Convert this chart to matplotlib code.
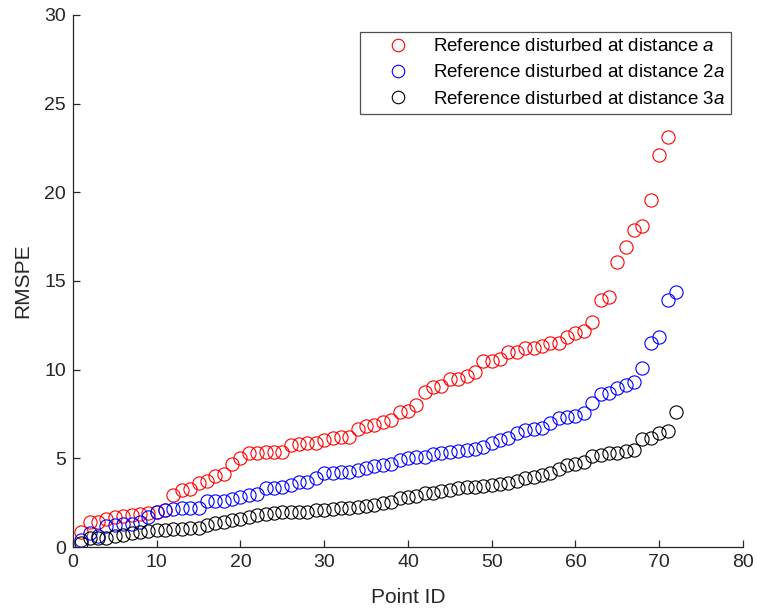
import matplotlib
matplotlib.use('Agg')
import matplotlib.pyplot as plt
import numpy as np

plt.rcParams['font.family'] = ['Liberation Sans', 'DejaVu Sans']
plt.rcParams['mathtext.fontset'] = 'custom'
plt.rcParams['mathtext.it'] = 'Liberation Sans:italic'
plt.rcParams['mathtext.rm'] = 'Liberation Sans'

# RMSPE values, sorted per series
rmspe_a = [0.83, 1.41, 1.41, 1.6, 1.67, 1.77, 1.83, 1.87, 1.92, 2.0,
           2.1, 2.92, 3.19, 3.3, 3.62, 3.75, 4.0, 4.1, 4.66, 5.0,
           5.28, 5.28, 5.33, 5.35, 5.35, 5.75, 5.8, 5.85, 5.85, 6.03,
           6.15, 6.2, 6.2, 6.65, 6.85, 6.9, 7.03, 7.16, 7.63, 7.67,
           8.0, 8.76, 9.0, 9.08, 9.49, 9.49, 9.66, 9.87, 10.49, 10.47,
           10.62, 11.0, 11.0, 11.2, 11.2, 11.34, 11.49, 11.5, 11.83, 12.05,
           12.18, 12.67, 13.93, 14.1, 16.06, 16.9, 17.9, 18.1, 19.55, 22.1,
           23.1]
rmspe_2a = [0.42, 0.8, 0.65, 1.17, 1.25, 1.3, 1.3, 1.4, 1.7, 2.0,
            2.1, 2.15, 2.2, 2.2, 2.2, 2.6, 2.6, 2.6, 2.7, 2.8,
            2.93, 3.0, 3.31, 3.31, 3.4, 3.5, 3.68, 3.68, 3.87, 4.15,
            4.2, 4.25, 4.25, 4.34, 4.45, 4.55, 4.62, 4.7, 4.9, 5.0,
            5.09, 5.1, 5.23, 5.3, 5.37, 5.4, 5.47, 5.5, 5.66, 5.85,
            6.03, 6.13, 6.41, 6.6, 6.64, 6.7, 6.98, 7.26, 7.35, 7.4,
            7.54, 8.12, 8.63, 8.67, 8.99, 9.14, 9.3, 10.1, 11.5, 11.84,
            13.93, 14.38]
rmspe_3a = [0.23, 0.5, 0.5, 0.5, 0.6, 0.7, 0.8, 0.85, 0.9, 0.95,
            0.95, 1.0, 1.0, 1.05, 1.1, 1.23, 1.36, 1.4, 1.5, 1.6,
            1.71, 1.8, 1.87, 1.9, 1.97, 1.97, 2.0, 2.0, 2.06, 2.1,
            2.14, 2.2, 2.2, 2.25, 2.3, 2.37, 2.46, 2.56, 2.75, 2.84,
            2.9, 3.03, 3.05, 3.16, 3.2, 3.31, 3.38, 3.38, 3.44, 3.5,
            3.54, 3.62, 3.74, 3.87, 3.97, 4.06, 4.2, 4.38, 4.6, 4.7,
            4.81, 5.15, 5.2, 5.28, 5.28, 5.43, 5.47, 6.07, 6.13, 6.41,
            6.54, 7.63]
labels = [r'Reference disturbed at distance $a$',
          r'Reference disturbed at distance 2$a$',
          r'Reference disturbed at distance 3$a$']
colors = ['#ff0000', '#0000ff', '#000000']

fig = plt.figure(figsize=(7.57, 6.11), dpi=100)
ax = fig.add_axes([0.0964, 0.1047, 0.885, 0.8708])

for vals, lab, col in zip([rmspe_a, rmspe_2a, rmspe_3a], labels, colors):
    ids = np.arange(1, len(vals) + 1)
    ax.plot(ids, vals, 'o', mfc='none', mec=col, ms=9.5, mew=0.8, label=lab)

ax.set_xlim(0, 80)
ax.set_ylim(0, 30)
ax.set_xticks(range(0, 81, 10))
ax.set_yticks(range(0, 31, 5))
ax.spines['top'].set_visible(False)
ax.spines['right'].set_visible(False)
for s in ['left', 'bottom']:
    ax.spines[s].set_color('#262626')
    ax.spines[s].set_linewidth(0.9)
ax.tick_params(direction='in', length=5, width=0.9, colors='#262626',
               labelsize=14, pad=5)
ax.set_xlabel('Point ID', fontsize=15, color='#262626', labelpad=12)
ax.set_ylabel('RMSPE', fontsize=15, color='#262626', labelpad=9)

leg = ax.legend(loc='upper right', bbox_to_anchor=(0.982, 0.968),
                fontsize=13.5, frameon=True, fancybox=False, handlelength=3.4,
                handletextpad=0.15, borderpad=0.33, labelspacing=0.48,
                borderaxespad=0)
leg.get_frame().set_edgecolor('#262626')
leg.get_frame().set_linewidth(0.9)
for h in leg.legend_handles:
    h.set_markersize(9)

fig.savefig('out.png', dpi=100)
